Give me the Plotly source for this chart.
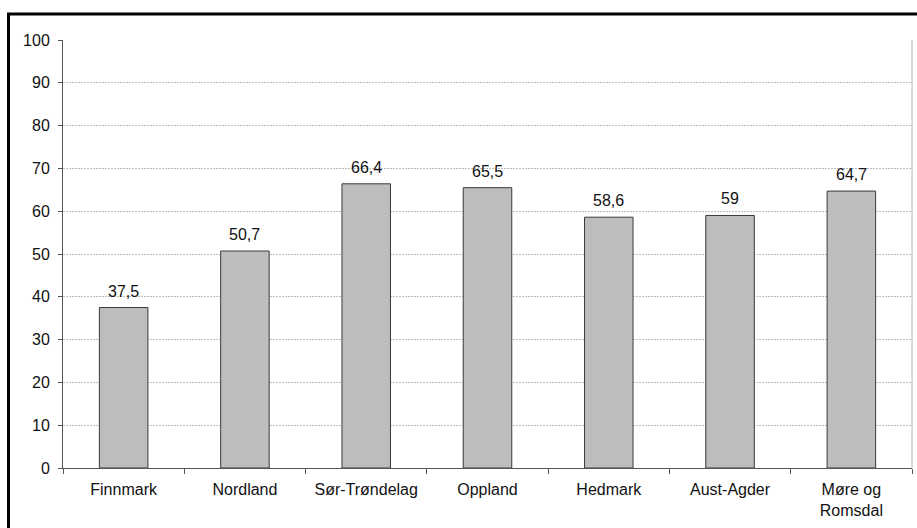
import plotly.graph_objects as go

# Share of respondents per county (percent)
counties = ["Finnmark", "Nordland", "Sør-Trøndelag", "Oppland", "Hedmark", "Aust-Agder", "Møre og<br>Romsdal"]
values = [37.5, 50.7, 66.4, 65.5, 58.6, 59, 64.7]
value_labels = ["37,5", "50,7", "66,4", "65,5", "58,6", "59", "64,7"]
y_ticks = [0, 10, 20, 30, 40, 50, 60, 70, 80, 90, 100]

FONT = "Liberation Sans, Arial, sans-serif"
FS = 16

fig = go.Figure()
fig.add_trace(go.Bar(
    x=counties,
    y=values,
    width=0.4,
    marker=dict(color="#bdbdbd", line=dict(color="#3a3a3a", width=1)),
    hoverinfo="skip",
))

# value labels above each bar
for c, v, t in zip(counties, values, value_labels):
    fig.add_annotation(
        x=c, y=v, text=t, showarrow=False,
        yanchor="bottom", yshift=6,
        font=dict(family=FONT, size=FS, color="#111111"),
    )

L, R, T, B = 63, 5, 40, 60
W, H = 917, 528
pw, ph = W - L - R, H - T - B

# right edge of the plot area
fig.add_shape(type="line", xref="paper", yref="paper", x0=1, x1=1, y0=0, y1=1,
              line=dict(color="#b5b5b5", width=1))

# heavy frame around the figure
fig.add_shape(type="rect", xref="paper", yref="paper",
              x0=(8.5 - L) / pw, x1=(W + 20 - L) / pw,
              y0=-(H + 20 - (T + ph)) / ph, y1=(T + ph - 14) / ph,
              line=dict(color="#000000", width=3), fillcolor="rgba(0,0,0,0)", layer="above")

fig.update_layout(
    width=W, height=H,
    margin=dict(l=L, r=R, t=T, b=B),
    paper_bgcolor="white", plot_bgcolor="white",
    showlegend=False,
    bargap=0.6,
    font=dict(family=FONT, size=FS, color="#111111"),
    xaxis=dict(
        type="category",
        showline=True, linecolor="#555555", linewidth=1,
        ticks="outside", ticklen=5, tickcolor="#555555",
        tickson="boundaries",
        showgrid=False,
        ticklabelstandoff=7,
        tickfont=dict(family=FONT, size=FS, color="#111111"),
    ),
    yaxis=dict(
        range=[0, 100],
        tickvals=y_ticks,
        showline=True, linecolor="#555555", linewidth=1,
        ticks="outside", ticklen=4, tickcolor="#555555",
        showgrid=True, gridcolor="#bdbdbd", gridwidth=1, griddash="2px,1px",
        zeroline=False,
        ticklabelstandoff=5,
        tickfont=dict(family=FONT, size=FS, color="#111111"),
    ),
)

fig.write_html("out.html")
